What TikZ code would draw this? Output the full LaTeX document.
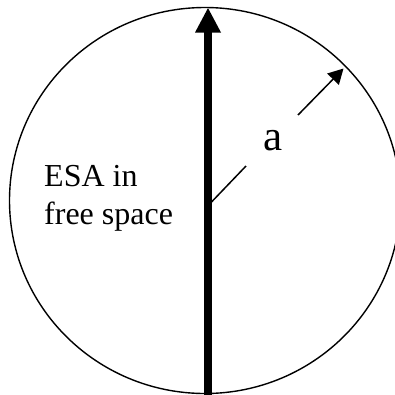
\documentclass[tikz,border=0pt]{standalone}
\usepackage{fontspec}
\setmainfont{Liberation Serif}
\usetikzlibrary{arrows.meta}
\begin{document}
\begin{tikzpicture}[x=1pt,y=-1pt,
  outline/.style={line width=1.4pt},
  dipole/.style={line width=8pt,-{Triangle[length=25pt,width=24pt]}},
  radius/.style={line width=1.5pt},
  lbl/.style={inner sep=0pt,font=\fontsize{32}{37.3}\selectfont}]
\useasboundingbox (0,0) rectangle (395,394);
\draw[outline] (205,200.5) ellipse [x radius=195.5, y radius=193];
\coordinate (bot) at (208,396);
\coordinate (top) at (208,7.5);
\draw[dipole] (bot) -- (top);
\coordinate (r0) at (211.5,202);
\coordinate (r1) at (246,166);
\coordinate (r2) at (298,115);
\coordinate (r3) at (343.5,68.5);
\draw[radius] (r0) -- (r1);
\draw[radius,-{Triangle[length=15pt,width=16pt]}] (r2) -- (r3);
\node[lbl,anchor=base,font=\fontsize{43}{48}\selectfont] (a) at (273,150) {a};
\node[lbl,anchor=base west] (esa1) at (44,186.7) {ESA in};
\node[lbl,anchor=base west] (esa2) at (44,224) {free space};
\end{tikzpicture}
\end{document}
